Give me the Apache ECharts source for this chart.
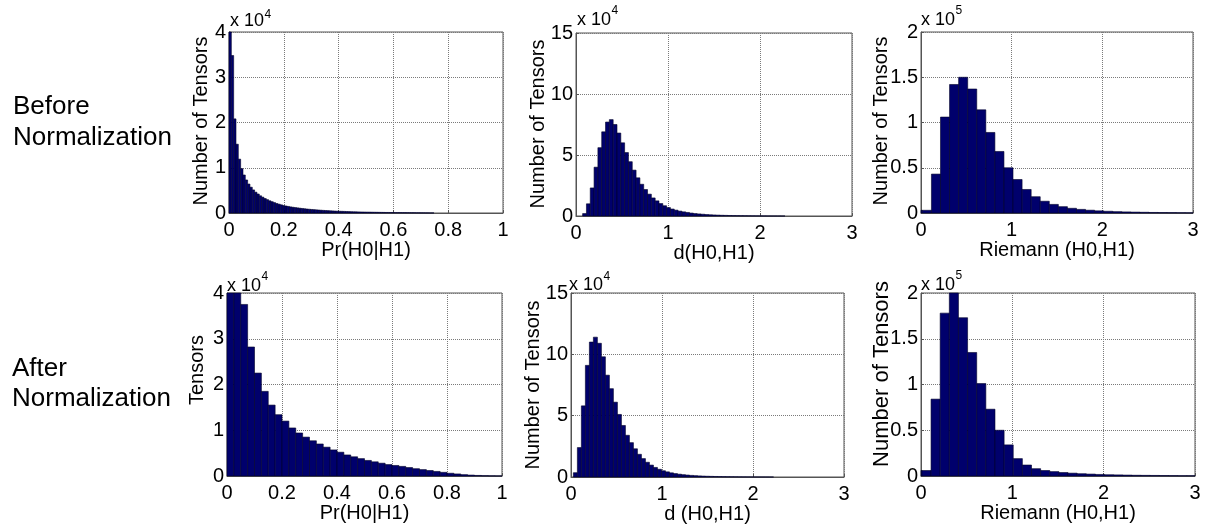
<!DOCTYPE html>
<html><head><meta charset="utf-8">
<script src="https://cdn.jsdelivr.net/npm/echarts@6/dist/echarts.min.js"></script>
<style>html,body{margin:0;padding:0;background:#fff}#c{width:1207px;height:526px}</style>
</head><body><div id="c"></div>
<script>
// ---------- data ----------
const rowLabels = [['Before', 'Normalization'], ['After', 'Normalization']];
const xTitles = ['Pr(H0|H1)', 'd(H0,H1)', 'Riemann (H0,H1)', 'Pr(H0|H1)', 'd (H0,H1)', 'Riemann (H0,H1)'];
const yTitles = ['Number of Tensors', 'Number of Tensors', 'Number of Tensors', 'Tensors', 'Number of Tensors', 'Number of Tensors'];
const xTicksPr = [0, 0.2, 0.4, 0.6, 0.8, 1];
const xTicksD = [0, 1, 2, 3];
const yTicks4 = [0, 1, 2, 3, 4];
const yTicks15 = [0, 5, 10, 15];
const yTicks2 = [0, 0.5, 1, 1.5, 2];
const exponents = [4, 4, 5, 4, 4, 5];

// histograms: counts in units of 10^exponent
const prBeforeStart = 0, prBeforeWidth = 0.0085;
const prBeforeCounts = [4.00,3.48,2.08,1.52,1.19,0.98,0.84,0.73,0.64,0.57,
0.51,0.46,0.42,0.38,0.35,0.32,0.295,0.27,0.25,0.23,
0.21,0.195,0.18,0.165,0.155,0.145,0.135,0.127,0.12,0.113,
0.106,0.1,0.094,0.088,0.083,0.078,0.074,0.07,0.066,0.062,
0.058,0.055,0.052,0.049,0.046,0.043,0.041,0.039,0.037,0.035,
0.033,0.031,0.029,0.027,0.026,0.024,0.023,0.022,0.021,0.02,
0.019,0.018,0.017,0.016,0.015,0.014,0.013,0.012,0.012,0.011,
0.01,0.01,0.009,0.009,0.008,0.008,0.007,0.007,0.006,0.006,
0.005,0.005,0.004,0.004,0.003,0.003,0.002,0.002];

const dBeforeStart = 0.072, dBeforeWidth = 0.0415;
const dBeforeCounts = [0.2,1.0,2.3,4.0,5.6,6.9,7.7,7.9,7.5,6.8,
6.0,5.2,4.45,3.76,3.13,2.6,2.17,1.79,1.48,1.24,
1.02,0.84,0.69,0.57,0.48,0.40,0.34,0.29,0.24,0.20,
0.17,0.145,0.12,0.10,0.085,0.072,0.06,0.05,0.042,0.035,
0.03,0.025,0.021,0.018,0.015,0.012,0.01,0.008,0.006,0.005,
0.004,0.003,0.002];

const rBeforeStart = -0.085, rBeforeWidth = 0.1;
const rBeforeCounts = [0.03,0.03,0.43,1.06,1.42,1.50,1.37,1.14,0.89,0.68,
0.50,0.37,0.26,0.18,0.13,0.095,0.07,0.052,0.04,0.031,
0.024,0.019,0.015,0.012,0.01,0.008,0.006,0.005,0.004,0.003,0.0025];

const prAfterStart = 0, prAfterWidth = 0.025;
const prAfterCounts = [4.0,4.0,3.75,2.82,2.25,1.85,1.55,1.34,1.2,1.05,
0.94,0.85,0.77,0.70,0.63,0.57,0.52,0.46,0.42,0.38,
0.34,0.31,0.28,0.25,0.23,0.21,0.185,0.16,0.14,0.12,
0.10,0.08,0.06,0.045,0.03,0.02,0.012,0.007,0.004,0.002];

const dAfterStart = 0.026, dAfterWidth = 0.044;
const dAfterCounts = [0.35,2.4,5.8,9.1,11.0,11.4,10.9,9.8,8.3,7.2,
6.1,5.1,4.2,3.4,2.8,2.3,1.85,1.5,1.2,0.97,
0.78,0.63,0.51,0.42,0.34,0.28,0.23,0.19,0.16,0.13,
0.11,0.09,0.075,0.062,0.052,0.043,0.036,0.03,0.025,0.021,
0.017,0.014,0.011,0.009,0.007,0.006,0.005,0.004,0.003,0.002];

const rAfterStart = -0.09, rAfterWidth = 0.1;
const rAfterCounts = [0.06,0.06,0.84,1.78,2.0,1.73,1.35,1.01,0.73,0.50,
0.34,0.19,0.12,0.08,0.06,0.048,0.038,0.031,0.025,0.021,
0.017,0.014,0.012,0.01,0.008,0.007,0.006,0.005,0.004,0.003,0.003,0.002];

// ---------- layout / style ----------
const panels = [
  {start: prBeforeStart, width: prBeforeWidth, counts: prBeforeCounts, xt: xTicksPr, yt: yTicks4},
  {start: dBeforeStart, width: dBeforeWidth, counts: dBeforeCounts, xt: xTicksD, yt: yTicks15},
  {start: rBeforeStart, width: rBeforeWidth, counts: rBeforeCounts, xt: xTicksD, yt: yTicks2},
  {start: prAfterStart, width: prAfterWidth, counts: prAfterCounts, xt: xTicksPr, yt: yTicks4},
  {start: dAfterStart, width: dAfterWidth, counts: dAfterCounts, xt: xTicksD, yt: yTicks15},
  {start: rAfterStart, width: rAfterWidth, counts: rAfterCounts, xt: xTicksD, yt: yTicks2}
];
const gridBoxes = [
  {left: 229, top: 32, width: 274, height: 181},
  {left: 576, top: 33, width: 276, height: 183},
  {left: 921, top: 32, width: 272, height: 181},
  {left: 227, top: 293, width: 275, height: 183},
  {left: 571, top: 293, width: 273, height: 184},
  {left: 921, top: 293, width: 274, height: 183}
];
const xNameGaps = [23, 27, 26, 23, 26, 26];
const yTitlePos = [
  {x: 201.5, y: 121, size: 20},
  {x: 538, y: 124, size: 20},
  {x: 881.5, y: 121, size: 20},
  {x: 197.5, y: 370, size: 20},
  {x: 533, y: 385, size: 20},
  {x: 882, y: 374, size: 22}
];
const expPos = [
  {x: 230, y: 21.5, sy: 15},
  {x: 577, y: 20.5, sy: 11},
  {x: 921, y: 20.5, sy: 11},
  {x: 227, y: 286.5, sy: 277},
  {x: 569, y: 285.5, sy: 277},
  {x: 921, y: 285, sy: 276}
];
const FONT = '"Liberation Sans", Arial, sans-serif';
const EXP_FONT = '18px ' + FONT;
const BAR_FILL = '#00006c', BAR_EDGE = '#000028';
const AXIS_C = '#555555';

const measureCtx = document.createElement('canvas').getContext('2d');
function textWidth(t, font) { measureCtx.font = font; return measureCtx.measureText(t).width; }

function renderBar(params, api) {
  const x0 = api.value(0), x1 = api.value(1), v = api.value(2);
  const a = api.coord([x0, 0]);
  const b = api.coord([x1, v]);
  const cs = params.coordSys;
  const r = echarts.graphic.clipRectByRect(
    {x: a[0], y: b[1], width: b[0] - a[0], height: a[1] - b[1]},
    {x: cs.x, y: cs.y, width: cs.width, height: cs.height});
  if (!r) return null;
  return {type: 'rect', shape: r, style: {fill: BAR_FILL, stroke: BAR_EDGE, lineWidth: 0.6}};
}

const grids = [], xAxes = [], yAxes = [], series = [], graphics = [];
panels.forEach((p, i) => {
  const g = gridBoxes[i];
  grids.push(Object.assign({show: true, borderColor: AXIS_C, borderWidth: 1, backgroundColor: '#fff'}, g));
  const common = {
    gridIndex: i, type: 'value',
    axisLine: {show: true, onZero: false, lineStyle: {color: AXIS_C, width: 1}},
    axisTick: {show: true, inside: true, length: 3, lineStyle: {color: AXIS_C}},
    splitLine: {show: true, lineStyle: {type: 'dotted', color: '#7a7a7a', width: 1}},
    axisLabel: {color: '#000', fontSize: 20, fontFamily: FONT}
  };
  xAxes.push(Object.assign({}, common, {
    min: p.xt[0], max: p.xt[p.xt.length - 1], interval: p.xt[1] - p.xt[0],
    axisLabel: Object.assign({}, common.axisLabel, {margin: 7, showMaxLabel: true, showMinLabel: true}),
    name: xTitles[i], nameLocation: 'middle', nameGap: xNameGaps[i],
    nameTextStyle: {color: '#000', fontSize: 20, fontFamily: FONT}
  }));
  yAxes.push(Object.assign({}, common, {
    min: p.yt[0], max: p.yt[p.yt.length - 1], interval: p.yt[1] - p.yt[0],
    axisLabel: Object.assign({}, common.axisLabel, {margin: 3, showMaxLabel: true, showMinLabel: true})
  }));
  series.push({
    type: 'custom', xAxisIndex: i, yAxisIndex: i, silent: true,
    renderItem: renderBar,
    encode: {x: [0, 1], y: 2},
    data: p.counts.map((c, k) => [p.start + k * p.width, p.start + (k + 1) * p.width, c])
  });
  const yt = yTitlePos[i];
  graphics.push({type: 'text', x: yt.x, y: yt.y, rotation: Math.PI / 2,
    style: {text: yTitles[i], font: yt.size + 'px ' + FONT, fill: '#000', align: 'center', verticalAlign: 'middle'}});
  const e = expPos[i];
  graphics.push({type: 'text', x: e.x, y: e.y,
    style: {text: 'x 10', font: EXP_FONT, fill: '#000', align: 'left', verticalAlign: 'middle'}});
  graphics.push({type: 'text', x: e.x + textWidth('x 10', EXP_FONT) + 0.5, y: e.sy,
    style: {text: String(exponents[i]), font: '12px ' + FONT, fill: '#000', align: 'left', verticalAlign: 'middle'}});
});

const rowLabelPos = [[{x: 13, y: 106.5}, {x: 13, y: 138}], [{x: 12, y: 368.5}, {x: 12, y: 399}]];
rowLabels.forEach((lines, r) => lines.forEach((t, j) => {
  graphics.push({type: 'text', x: rowLabelPos[r][j].x, y: rowLabelPos[r][j].y,
    style: {text: t, font: '26px ' + FONT, fill: '#000', align: 'left', verticalAlign: 'middle'}});
}));

const chart = echarts.init(document.getElementById('c'), null, {renderer: 'canvas'});
chart.setOption({
  animation: false,
  backgroundColor: '#fff',
  grid: grids, xAxis: xAxes, yAxis: yAxes, series: series, graphic: graphics
});
</script></body></html>
